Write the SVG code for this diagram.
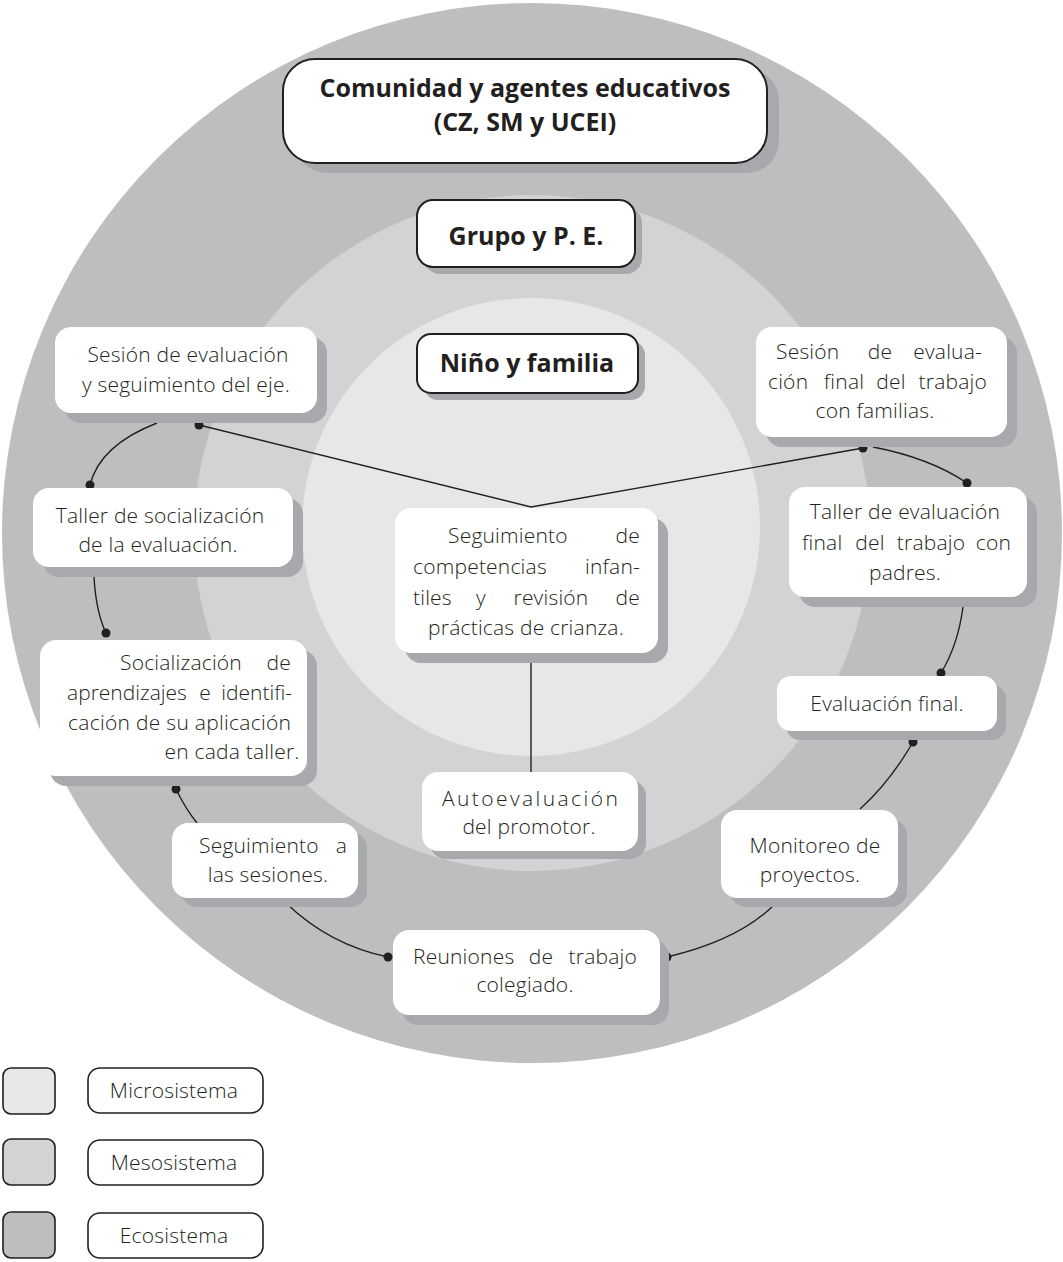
<svg xmlns="http://www.w3.org/2000/svg" width="1063" height="1262" viewBox="0 0 1063 1262">
<style>
.t{font-family:"Open Sans","Noto Sans","Liberation Sans",sans-serif;font-size:21px;font-weight:300;fill:#231f20;letter-spacing:0.2px}
.b{font-family:"Open Sans","Noto Sans","Liberation Sans",sans-serif;font-size:25px;font-weight:700;fill:#231f20}
.m{text-anchor:middle}
.e{text-anchor:end}
.n{letter-spacing:0px}
.box{fill:#ffffff}
.sh{fill:#a7a9ac}
.hbox{fill:#ffffff;stroke:#231f20;stroke-width:2}
.ln{fill:none;stroke:#231f20;stroke-width:1.4}
.dot{fill:#231f20}
.leg{stroke:#231f20;stroke-width:1.6}
</style>
<rect width="1063" height="1262" fill="#ffffff"/>
<g id="rings">
<circle cx="532" cy="533" r="530" fill="#bcbec0"/>
<circle cx="532" cy="533" r="338" fill="#d1d3d4"/>
<circle cx="531" cy="527" r="229" fill="#e6e7e8"/>
</g>
<g id="connectors">
<polyline class="ln" points="199,425 531,507 863,448"/>
<line class="ln" x1="531" y1="661" x2="531" y2="772"/>
<path class="ln" d="M157,423 Q100,445 90,485"/>
<path class="ln" d="M94,577 Q96,612 106,633"/>
<path class="ln" d="M176,789 Q185,808 197,823"/>
<path class="ln" d="M287,904 Q330,945 388,957"/>
<path class="ln" d="M667,957 Q740,940 776,903"/>
<path class="ln" d="M913,742 Q890,782 860,809"/>
<path class="ln" d="M963,607 Q958,645 941,673"/>
<path class="ln" d="M873,447 Q930,458 967,483"/>
<circle class="dot" cx="199" cy="425" r="4.5"/>
<circle class="dot" cx="863" cy="448" r="4.5"/>
<circle class="dot" cx="90" cy="485" r="4.5"/>
<circle class="dot" cx="106" cy="633" r="4.5"/>
<circle class="dot" cx="176" cy="789" r="4.5"/>
<circle class="dot" cx="388" cy="957" r="4.5"/>
<circle class="dot" cx="667" cy="957" r="4.5"/>
<circle class="dot" cx="913" cy="742" r="4.5"/>
<circle class="dot" cx="941" cy="673" r="4.5"/>
<circle class="dot" cx="967" cy="483" r="4.5"/>
</g>
<g id="comunidad">
<rect class="sh" x="295" y="69" width="484" height="104" rx="32"/>
<rect class="hbox" x="283" y="59" width="484" height="104" rx="32"/>
<text class="b m" x="525" y="97">Comunidad y agentes educativos</text>
<text class="b m" x="525" y="131">(CZ, SM y UCEI)</text>
</g>
<g id="grupo">
<rect class="sh" x="424" y="207" width="218" height="67" rx="16"/>
<rect class="hbox" x="417" y="200" width="218" height="67" rx="16"/>
<text class="b m" x="526" y="245">Grupo y P. E.</text>
</g>
<g id="nino">
<rect class="sh" x="424" y="341" width="221" height="59" rx="14"/>
<rect class="hbox" x="417" y="334" width="221" height="59" rx="14"/>
<text class="b m" x="527" y="372">Niño y familia</text>
</g>
<g id="sesion-eje">
<rect class="sh" x="65" y="337" width="262" height="86" rx="16"/>
<rect class="box" x="55" y="327" width="262" height="86" rx="16"/>
<text class="t m" x="188" y="362">Sesión de evaluación</text>
<text class="t m" x="186" y="392">y seguimiento del eje.</text>
</g>
<g id="taller-social">
<rect class="sh" x="43" y="498" width="260" height="79" rx="16"/>
<rect class="box" x="33" y="488" width="260" height="79" rx="16"/>
<text class="t m" x="160" y="523">Taller de socialización</text>
<text class="t m" x="158" y="552">de la evaluación.</text>
</g>
<g id="socializacion">
<rect class="sh" x="50" y="650" width="267" height="136" rx="16"/>
<rect class="box" x="40" y="640" width="267" height="136" rx="16"/>
<text class="t" x="120" y="670">Socialización</text>
<text class="t e" x="291" y="670">de</text>
<text class="t n" x="67" y="700">aprendizajes</text>
<text class="t m n" x="205" y="700">e</text>
<text class="t e n" x="292" y="700">identifi-</text>
<text class="t n" x="68" y="730" textLength="223" lengthAdjust="spacing">cación de su aplicación</text>
<text class="t m" x="232" y="759">en cada taller.</text>
</g>
<g id="seguimiento-sesiones">
<rect class="sh" x="181" y="832" width="186" height="75" rx="16"/>
<rect class="box" x="172" y="823" width="186" height="75" rx="16"/>
<text class="t" x="199" y="853">Seguimiento</text>
<text class="t e" x="347" y="853">a</text>
<text class="t m" x="268" y="882">las sesiones.</text>
</g>
<g id="reuniones">
<rect class="sh" x="402" y="940" width="267" height="85" rx="16"/>
<rect class="box" x="393" y="930" width="267" height="85" rx="16"/>
<text class="t" x="413" y="964">Reuniones</text>
<text class="t m" x="541" y="964">de</text>
<text class="t e" x="637" y="964">trabajo</text>
<text class="t m" x="525" y="992">colegiado.</text>
</g>
<g id="autoevaluacion">
<rect class="sh" x="430" y="780" width="216" height="79" rx="16"/>
<rect class="box" x="422" y="772" width="216" height="79" rx="16"/>
<text class="t" x="442" y="806" textLength="176" lengthAdjust="spacing">Autoevaluación</text>
<text class="t m" x="529" y="834">del promotor.</text>
</g>
<g id="centro">
<rect class="sh" x="405" y="518" width="263" height="145" rx="16"/>
<rect class="box" x="395" y="508" width="263" height="145" rx="16"/>
<text class="t" x="448" y="543">Seguimiento</text>
<text class="t e" x="640" y="543">de</text>
<text class="t" x="413" y="574">competencias</text>
<text class="t e" x="640" y="574">infan-</text>
<text class="t" x="413" y="605">tiles</text>
<text class="t m" x="481" y="605">y</text>
<text class="t m" x="551" y="605">revisión</text>
<text class="t e" x="640" y="605">de</text>
<text class="t m" x="526" y="635">prácticas de crianza.</text>
</g>
<g id="sesion-final">
<rect class="sh" x="766" y="337" width="251" height="110" rx="16"/>
<rect class="box" x="756" y="327" width="251" height="110" rx="16"/>
<text class="t" x="776" y="359">Sesión</text>
<text class="t m" x="880" y="359">de</text>
<text class="t e" x="982" y="359">evalua-</text>
<text class="t" x="768" y="389">ción</text>
<text class="t m" x="844" y="389">final</text>
<text class="t m" x="891" y="389">del</text>
<text class="t e" x="987" y="389">trabajo</text>
<text class="t m" x="875" y="418">con familias.</text>
</g>
<g id="taller-final">
<rect class="sh" x="799" y="497" width="238" height="110" rx="16"/>
<rect class="box" x="789" y="487" width="238" height="110" rx="16"/>
<text class="t m" x="905" y="519">Taller de evaluación</text>
<text class="t" x="802" y="550">final</text>
<text class="t m" x="870" y="550">del</text>
<text class="t m" x="931" y="550">trabajo</text>
<text class="t e" x="1011" y="550">con</text>
<text class="t m" x="905" y="580">padres.</text>
</g>
<g id="evaluacion-final">
<rect class="sh" x="786" y="685" width="220" height="55" rx="14"/>
<rect class="box" x="777" y="676" width="220" height="55" rx="14"/>
<text class="t m" x="887" y="711">Evaluación final.</text>
</g>
<g id="monitoreo">
<rect class="sh" x="730" y="819" width="177" height="88" rx="16"/>
<rect class="box" x="721" y="810" width="177" height="88" rx="16"/>
<text class="t m" x="815" y="853">Monitoreo de</text>
<text class="t m" x="810" y="882">proyectos.</text>
</g>
<g id="legend">
<rect class="leg" x="3" y="1068" width="52" height="46" rx="8" fill="#e6e7e8"/>
<rect class="leg" x="3" y="1139" width="52" height="46" rx="8" fill="#d1d3d4"/>
<rect class="leg" x="3" y="1212" width="52" height="46" rx="8" fill="#bcbec0"/>
<rect class="leg" x="88" y="1068" width="175" height="45" rx="12" fill="#ffffff"/>
<rect class="leg" x="88" y="1140" width="175" height="45" rx="12" fill="#ffffff"/>
<rect class="leg" x="88" y="1213" width="175" height="45" rx="12" fill="#ffffff"/>
<text class="t m" x="174" y="1098">Microsistema</text>
<text class="t m" x="174" y="1170">Mesosistema</text>
<text class="t m" x="174" y="1243">Ecosistema</text>
</g>
</svg>
